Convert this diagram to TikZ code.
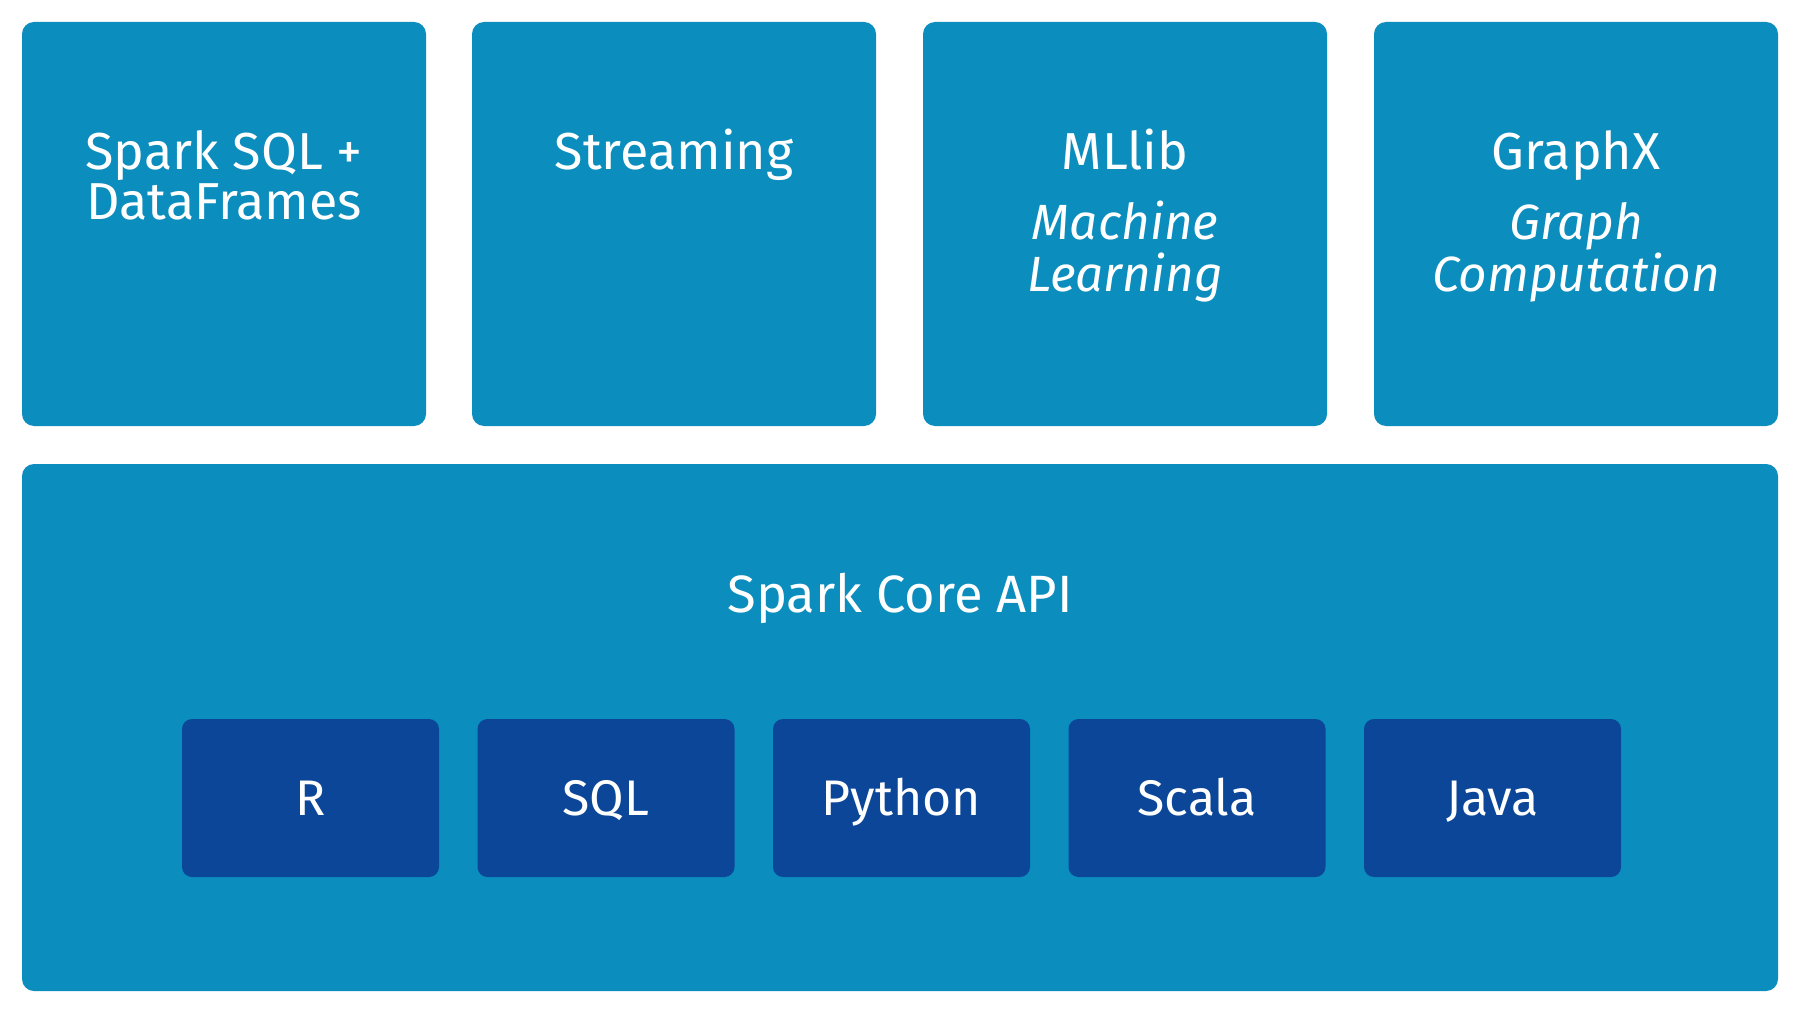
\documentclass[tikz,border=0pt]{standalone}
\usepackage{fontspec}
\setmainfont{Fira Sans}
\definecolor{lightblue}{RGB}{11,141,189}
\definecolor{darkblue}{RGB}{12,70,152}
\begin{document}
\begin{tikzpicture}[x=1pt,y=-1pt,
  modbox/.style={fill=lightblue,draw=none,rounded corners=12pt,inner sep=0pt,outer sep=0pt,anchor=north west,minimum width=404pt,minimum height=404pt},
  corebox/.style={fill=lightblue,draw=none,rounded corners=12pt,inner sep=0pt,outer sep=0pt,anchor=north west,minimum width=1756pt,minimum height=527pt},
  langbox/.style={fill=darkblue,draw=none,rounded corners=10pt,inner sep=0pt,outer sep=0pt,minimum width=257pt,minimum height=158pt},
  title/.style={text=white,inner sep=0pt,anchor=base,font=\fontsize{52}{60}\selectfont},
  subtitle/.style={text=white,inner sep=0pt,anchor=base,font=\fontsize{49.5}{60}\selectfont\itshape},
  coretext/.style={text=white,inner sep=0pt,anchor=base,font=\fontsize{52.5}{60}\selectfont},
  langtext/.style={text=white,inner sep=0pt,anchor=base,font=\fontsize{50}{56}\selectfont}]
\useasboundingbox (0,0) rectangle (1796,1016);
\fill[white] (0,0) rectangle (1796,1016);
% top modules
\node[modbox] (sql) at (22,22) {};
\node[modbox] (stream) at (472,22) {};
\node[modbox] (ml) at (923,22) {};
\node[modbox] (graph) at (1374,22) {};
\node[title] (sqlA) at (224,170) {Spark SQL +};
\node[title] (sqlB) at (224,220) {DataFrames};
\node[title] (streamA) at (674,170) {Streaming};
\node[title] (mlA) at (1125,170) {MLlib};
\node[subtitle] (mlB) at (1125,240) {Machine};
\node[subtitle] (mlC) at (1125,292) {Learning};
\node[title] (graphA) at (1576,170) {GraphX};
\node[subtitle] (graphB) at (1576,240) {Graph};
\node[subtitle] (graphC) at (1576,292) {Computation};
% core
\node[corebox] (core) at (22,464) {};
\node[coretext] (coreT) at (900,612) {Spark Core API};
% languages
\node[langbox] (r) at (310.5,798) {};
\node[langbox] (sqll) at (606,798) {};
\node[langbox] (py) at (901.5,798) {};
\node[langbox] (scala) at (1197,798) {};
\node[langbox] (java) at (1492.5,798) {};
\node[langtext] (rT) at (310.5,815) {R};
\node[langtext] (sqlT) at (606,815) {SQL};
\node[langtext] (pyT) at (901.5,815) {Python};
\node[langtext] (scalaT) at (1197,815) {Scala};
\node[langtext] (javaT) at (1492.5,815) {Java};
\end{tikzpicture}
\end{document}
